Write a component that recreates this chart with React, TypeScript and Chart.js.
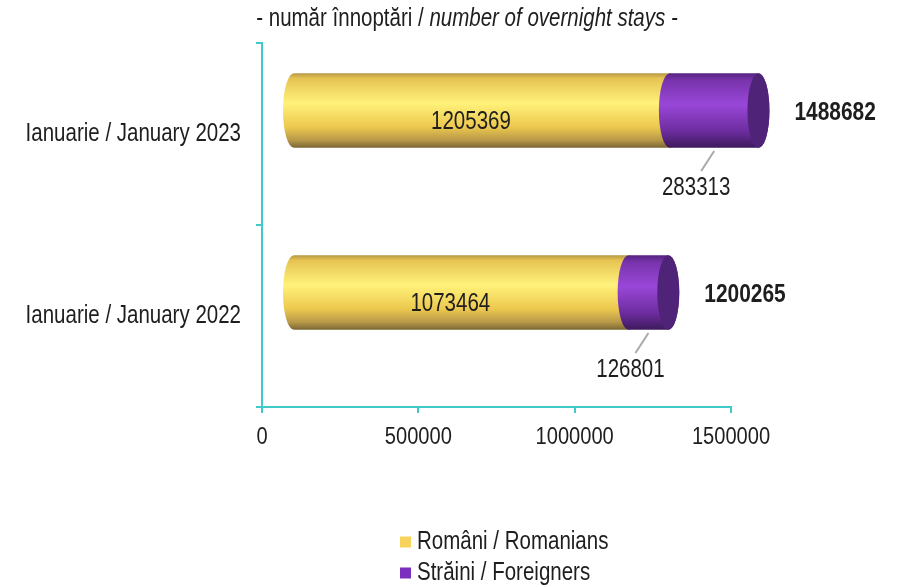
import React, { useEffect, useRef } from "react";
import { Chart, registerables } from "chart.js";

Chart.register(...registerables);

const categories = ["Ianuarie / January 2023", "Ianuarie / January 2022"];
const romanians = [1205369, 1073464];
const foreigners = [283313, 126801];
const totals = [1488682, 1200265];
const seriesLabels = ["Români / Romanians", "Străini / Foreigners"];
const xTicks = [0, 500000, 1000000, 1500000];
const titleNormal = "- număr înnoptări / ";
const titleItalic = "number of overnight stays -";

const FONT = "'Liberation Sans', Arial, sans-serif";
const NARROW = 0.82;
const AXIS = "#3fc9c9";
const TEXT = "#1e1e1e";
const legendColors = ["#f7d35c", "#7b30bd"];
const capColors = ["#d9b84c", "#4f2377"];
const gradStops: [number, string][][] = [
  [
    [0, "#b59845"],
    [0.07, "#e6c352"],
    [0.4, "#fff27a"],
    [0.72, "#edc84f"],
    [0.9, "#b79848"],
    [1, "#7a6634"],
  ],
  [
    [0, "#55237f"],
    [0.1, "#7934ad"],
    [0.42, "#9947d8"],
    [0.78, "#6c2c9e"],
    [1, "#3c1a5b"],
  ],
];

function narrowText(
  ctx: CanvasRenderingContext2D,
  text: string,
  x: number,
  y: number,
  font: string,
  align: CanvasTextAlign
) {
  ctx.save();
  ctx.font = font;
  ctx.textAlign = align;
  ctx.textBaseline = "middle";
  ctx.translate(x, y);
  ctx.scale(NARROW, 1);
  ctx.fillText(text, 0, 0);
  ctx.restore();
}

const cylinderPlugin = {
  id: "cylinders",
  beforeDatasetsDraw(chart: any) {
    const ctx = chart.ctx;
    const dx = 31;
    const dy = -23.5;
    const rx = 11;
    const n = chart.data.labels.length;
    ctx.save();
    for (let j = 0; j < n; j++) {
      let last: any = null;
      chart.data.datasets.forEach((_: any, i: number) => {
        const meta = chart.getDatasetMeta(i);
        const el = meta.data[j];
        const p = el.getProps(["x", "y", "base", "height"], true);
        const x0 = Math.min(p.base, p.x) + dx;
        const x1 = Math.max(p.base, p.x) + dx;
        const cy = p.y + dy;
        const r = p.height / 2;
        const g = ctx.createLinearGradient(0, cy - r, 0, cy + r);
        gradStops[i].forEach(([o, c]) => g.addColorStop(o, c));
        ctx.beginPath();
        ctx.moveTo(x0, cy - r);
        ctx.lineTo(x1, cy - r);
        ctx.ellipse(x1, cy, rx, r, 0, -Math.PI / 2, Math.PI / 2, false);
        ctx.lineTo(x0, cy + r);
        ctx.ellipse(x0, cy, rx, r, 0, Math.PI / 2, (3 * Math.PI) / 2, false);
        ctx.closePath();
        ctx.fillStyle = g;
        ctx.fill();
        last = { x1, cy, r, i };
      });
      if (last) {
        ctx.beginPath();
        ctx.ellipse(last.x1, last.cy, rx, last.r, 0, 0, Math.PI * 2);
        ctx.fillStyle = capColors[last.i];
        ctx.fill();
      }
    }
    ctx.restore();
    return false;
  },
  afterDraw(chart: any) {
    const ctx = chart.ctx;
    ctx.save();
    ctx.fillStyle = TEXT;
    // axis tick labels
    const ys = chart.scales.y;
    categories.forEach((c, i) => {
      narrowText(ctx, c, ys.right - 21, ys.getPixelForTick(i), `25px ${FONT}`, "right");
    });
    const xs = chart.scales.x;
    xTicks.forEach((v) => {
      narrowText(ctx, String(v), xs.getPixelForValue(v), xs.top + 30, `24.5px ${FONT}`, "center");
    });
    const m0 = chart.getDatasetMeta(0);
    const m1 = chart.getDatasetMeta(1);
    const n = chart.data.labels.length;
    for (let j = 0; j < n; j++) {
      const a = m0.data[j].getProps(["x", "y", "base"], true);
      const b = m1.data[j].getProps(["x", "y", "base"], true);
      narrowText(ctx, String(romanians[j]), (a.base + a.x) / 2 + 20, a.y - 12, `25px ${FONT}`, "center");
      const mid = (b.base + b.x) / 2;
      ctx.strokeStyle = "#a9a9a9";
      ctx.lineWidth = 2;
      ctx.beginPath();
      ctx.moveTo(mid + 31, b.y + 17);
      ctx.lineTo(mid + 18, b.y + 37);
      ctx.stroke();
      narrowText(ctx, String(foreigners[j]), mid + 13, b.y + 54, `25px ${FONT}`, "center");
      narrowText(ctx, String(totals[j]), b.x + 67, b.y - 21, `bold 25.5px ${FONT}`, "left");
    }
    // Title
    const f1 = `25px ${FONT}`;
    const f2 = `italic 25px ${FONT}`;
    ctx.font = f1;
    const w1 = ctx.measureText(titleNormal).width * NARROW;
    ctx.font = f2;
    const w2 = ctx.measureText(titleItalic).width * NARROW;
    const tx = 467 - (w1 + w2) / 2;
    narrowText(ctx, titleNormal, tx, 19, f1, "left");
    narrowText(ctx, titleItalic, tx + w1, 19, f2, "left");
    // Legend
    seriesLabels.forEach((lab, i) => {
      const ly = 542 + i * 31;
      ctx.fillStyle = legendColors[i];
      ctx.fillRect(400, ly - 5.5, 11, 11);
      ctx.fillStyle = TEXT;
      narrowText(ctx, lab, 417, ly, `25px ${FONT}`, "left");
    });
    ctx.restore();
  },
};

export default function App() {
  const ref = useRef<HTMLCanvasElement | null>(null);
  useEffect(() => {
    if (!ref.current) return;
    const chart = new Chart(ref.current, {
      type: "bar",
      data: {
        labels: categories,
        datasets: [
          { label: seriesLabels[0], data: romanians, backgroundColor: legendColors[0] },
          { label: seriesLabels[1], data: foreigners, backgroundColor: legendColors[1] },
        ],
      },
      options: {
        indexAxis: "y",
        animation: false,
        responsive: false,
        devicePixelRatio: 1,
        layout: { padding: { top: 43, right: 166, bottom: 140, left: 0 } },
        datasets: { bar: { categoryPercentage: 1, barPercentage: 0.41 } },
        plugins: {
          legend: { display: false },
          title: { display: false },
          tooltip: { enabled: false },
        },
        scales: {
          x: {
            stacked: true,
            min: 0,
            max: 1500000,
            afterBuildTicks: (s: any) => {
              s.ticks = xTicks.map((v) => ({ value: v }));
            },
            afterFit: (s: any) => {
              s.height = 40;
            },
            grid: { drawOnChartArea: false, drawTicks: true, tickLength: 6, color: AXIS, lineWidth: 2 },
            border: { color: AXIS, width: 2 },
            ticks: { display: false },
          },
          y: {
            stacked: true,
            afterFit: (s: any) => {
              s.width = 262;
            },
            grid: { offset: true, drawOnChartArea: false, drawTicks: true, tickLength: 6, color: AXIS, lineWidth: 2 },
            border: { color: AXIS, width: 2 },
            ticks: { display: false },
          },
        },
      } as any,
      plugins: [cylinderPlugin],
    });
    return () => chart.destroy();
  }, []);
  return (
    <div style={{ position: "fixed", left: 0, top: 0, width: 897, height: 587, background: "#fff" }}>
      <canvas ref={ref} width={897} height={587} />
    </div>
  );
}
